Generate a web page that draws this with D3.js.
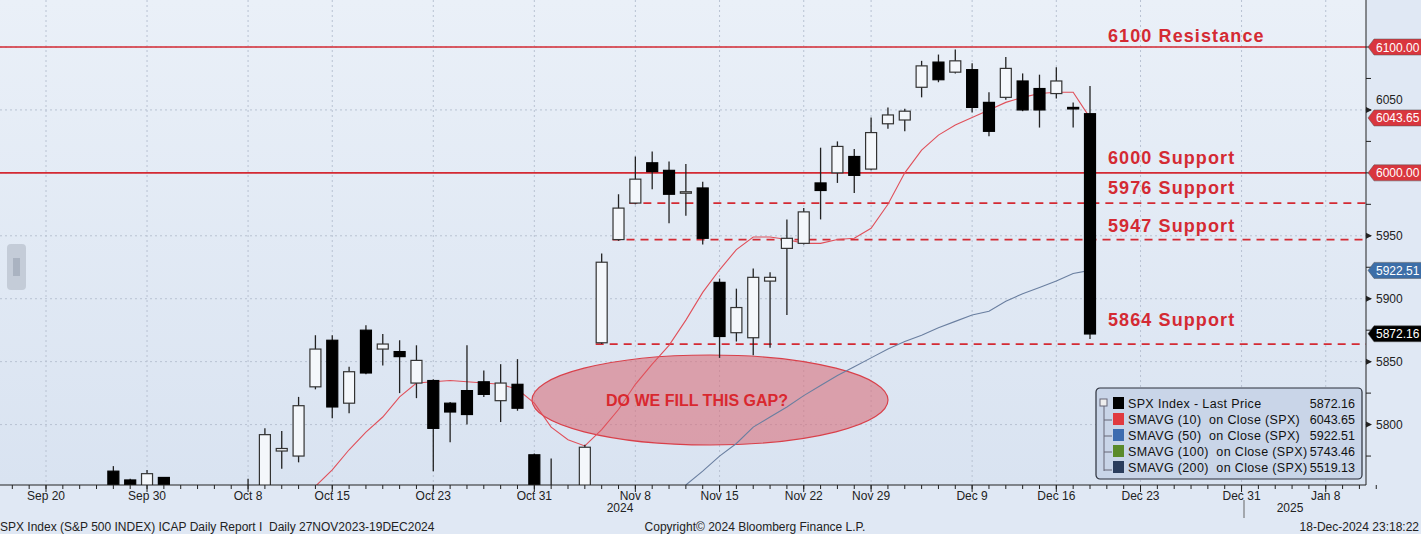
<!DOCTYPE html>
<html><head><meta charset="utf-8">
<script src="https://cdn.jsdelivr.net/npm/d3@7"></script>
<style>
body{margin:0;background:#e3eaf5;overflow:hidden}
text{font-family:"Liberation Sans",Arial,sans-serif;white-space:pre}
</style></head>
<body><svg id="chart" width="1421" height="534"></svg>
<script>
// trading days, index 0 = Sep 20 2024
var days = ["Sep 20","Sep 23","Sep 24","Sep 25","Sep 26","Sep 27","Sep 30","Oct 1","Oct 2","Oct 3","Oct 4","Oct 7","Oct 8","Oct 9","Oct 10","Oct 11","Oct 14","Oct 15","Oct 16","Oct 17","Oct 18","Oct 21","Oct 22","Oct 23","Oct 24","Oct 25","Oct 28","Oct 29","Oct 30","Oct 31","Nov 1","Nov 4","Nov 5","Nov 6","Nov 7","Nov 8","Nov 11","Nov 12","Nov 13","Nov 14","Nov 15","Nov 18","Nov 19","Nov 20","Nov 21","Nov 22","Nov 25","Nov 26","Nov 27","Nov 29","Dec 2","Dec 3","Dec 4","Dec 5","Dec 6","Dec 9","Dec 10","Dec 11","Dec 12","Dec 13","Dec 16","Dec 17","Dec 18"];
// [index, open, high, low, close] (below-range bodies are cut by the frame)
var ohlc = [
 [4,5763,5767,5740,5745],[5,5756,5757,5740,5745],[6,5745,5764,5740,5761],[7,5758,5758,5735,5740],
 [12,5745,5757,5740,5750],[13,5748,5797,5740,5792],[14,5779,5795,5765,5781],[15,5775,5822,5770,5815],
 [16,5830,5871,5828,5860],[17,5867,5871,5805,5814],[18,5817,5846,5809,5842],[19,5875,5879,5840,5841],
 [20,5860,5872,5847,5864],[21,5858,5867,5825,5854],[22,5833,5863,5821,5851],[23,5835,5836,5763,5797],
 [24,5817,5818,5786,5810],[25,5827,5863,5800,5808],[26,5834,5843,5822,5824],[27,5819,5848,5802,5833],
 [28,5832,5852,5811,5813],[29,5776,5777,5700,5705],[30,5740,5773,5720,5730],[32,5740,5784,5735,5782],
 [33,5865,5936,5864,5929],[34,5947,5983,5946,5972],[35,5976,6013,5975,5995],[36,6008,6017,5987,6001],
 [37,6002,6009,5960,5983],[38,5985,6007,5966,5985],[39,5988,5993,5943,5948],[40,5913,5916,5853,5870],
 [41,5873,5908,5866,5893],[42,5869,5924,5855,5917],[43,5914,5921,5861,5917],[44,5940,5963,5887,5948],
 [45,5944,5972,5943,5969],[46,5992,6020,5963,5986],[47,6000,6025,5992,6021],[48,6013,6019,5984,5998],
 [49,6003,6044,6002,6032],[50,6039,6052,6035,6046],[51,6042,6051,6033,6049],[52,6068,6089,6060,6085],
 [53,6088,6094,6072,6074],[54,6080,6098,6079,6089],[55,6082,6087,6048,6052],[56,6056,6064,6029,6033],
 [57,6060,6092,6058,6083],[58,6073,6079,6049,6050],[59,6067,6078,6036,6050],[60,6063,6084,6059,6073],
 [61,6052,6056,6036,6051],[62,6047,6069,5868,5872]
];
var sma10Start = 16;
var sma10 = [5751,5764,5780,5794,5806,5822,5833,5834,5835,5834,5833,5832,5828,5817,5798,5788,5783,5796,5812,5832,5848,5863,5883,5905,5923,5939,5949,5949,5947,5944,5944,5947,5948,5956,5975,6000,6018,6030,6038,6044,6050,6056,6060,6063,6064,6064,6043.65];
var sma50Start = 38;
var sma50 = [5752,5763,5775,5785,5798,5806,5814,5823,5831,5839,5846,5853,5860,5866,5871,5877,5882,5887,5890,5898,5904,5909,5914,5920,5922.51];
var xTicks = [[0,"Sep 20"],[6,"Sep 30"],[12,"Oct 8"],[17,"Oct 15"],[23,"Oct 23"],[29,"Oct 31"],[35,"Nov 8"],[40,"Nov 15"],[45,"Nov 22"],[49,"Nov 29"],[55,"Dec 9"],[60,"Dec 16"],[65,"Dec 23"],[71,"Dec 31"],[76,"Jan 8"]];
var yTicks = [5800,5850,5900,5950,6050];
var levels = [{v:6100,solid:true,from:0,label:"6100 Resistance",ly:36},{v:6000,solid:true,from:0,label:"6000 Support",ly:158},
  {v:5976,solid:false,from:35,label:"5976 Support",ly:188},{v:5947,solid:false,from:34,label:"5947 Support",ly:226},
  {v:5864,solid:false,from:33,label:"5864 Support",ly:320}];
var tags = [[6100,"6100.00","#d9363e"],[6043.65,"6043.65","#d9363e"],[6000,"6000.00","#d9363e"],[5922.51,"5922.51","#3c6ea8"],[5872.16,"5872.16","#000"]];
var legendRows = [["SPX Index - Last Price","5872.16","#000"],["SMAVG (10)  on Close (SPX)","6043.65","#e0393f"],
  ["SMAVG (50)  on Close (SPX)","5922.51","#3d6cb0"],["SMAVG (100)  on Close (SPX)","5743.46","#5a8a2a"],["SMAVG (200)  on Close (SPX)","5519.13","#2b3d5c"]];

var svg = d3.select("#chart");
var W = 1366, H = 485;
var x = d3.scaleLinear().domain([0,62]).range([46,1090]);
var y = d3.scaleLinear().domain([5752,6100]).range([H,47]);

var grad = svg.append("defs").append("linearGradient").attr("id","bg").attr("x1",0).attr("x2",0).attr("y1",0).attr("y2",1);
grad.append("stop").attr("offset",0).attr("stop-color","#eaf0f8");
grad.append("stop").attr("offset",1).attr("stop-color","#d9e3f1");
svg.select("defs").append("clipPath").attr("id","clip").append("rect").attr("width",W).attr("height",H);
svg.append("rect").attr("width",1421).attr("height",534).attr("fill","#e0e8f4");
svg.append("rect").attr("width",W).attr("height",H).attr("fill","url(#bg)");

var plot = svg.append("g").attr("clip-path","url(#clip)");
// grid
plot.selectAll(".vg").data(xTicks).enter().append("line")
  .attr("x1",d=>x(d[0])).attr("x2",d=>x(d[0])).attr("y1",0).attr("y2",H)
  .attr("stroke","#b8c2d2").attr("stroke-dasharray","2,3");
plot.selectAll(".hg").data(yTicks.concat([6000,6100])).enter().append("line")
  .attr("x1",0).attr("x2",W).attr("y1",d=>y(d)).attr("y2",d=>y(d))
  .attr("stroke","#b8c2d2").attr("stroke-dasharray","2,3");

// gap ellipse
plot.append("ellipse").attr("cx",710).attr("cy",400).attr("rx",178).attr("ry",45)
  .attr("fill","#d9707c").attr("fill-opacity",0.6).attr("stroke","#d9404a").attr("stroke-width",1.2);

// level lines
plot.selectAll(".lvl").data(levels).enter().append("line")
  .attr("x1",d=>d.from ? x(d.from)-6 : 0).attr("x2",W).attr("y1",d=>y(d.v)).attr("y2",d=>y(d.v))
  .attr("stroke","#d42a33").attr("stroke-width",d=>d.solid?1.6:1.8)
  .attr("stroke-dasharray",d=>d.solid?null:"8,6");

// moving averages
var line = d3.line().x(d=>x(d[0])).y(d=>y(d[1]));
plot.append("path").datum(sma50.map((v,i)=>[sma50Start+i,v])).attr("d",line)
  .attr("fill","none").attr("stroke","#6a7fa0").attr("stroke-width",1.1);
plot.append("path").datum(sma10.map((v,i)=>[sma10Start+i,v])).attr("d",line)
  .attr("fill","none").attr("stroke","#e0505a").attr("stroke-width",1.1);

// candles
var c = plot.selectAll(".candle").data(ohlc).enter().append("g");
c.append("line").attr("x1",d=>x(d[0])).attr("x2",d=>x(d[0])).attr("y1",d=>y(d[2])).attr("y2",d=>y(d[3]))
  .attr("stroke","#222").attr("stroke-width",1.3);
c.append("rect").attr("x",d=>x(d[0])-5.5).attr("width",11)
  .attr("y",d=>y(Math.max(d[1],d[4]))).attr("height",d=>Math.max(1.5,Math.abs(y(d[1])-y(d[4]))))
  .attr("fill",d=>d[4]<d[1]?"#000":"#f4f7fb").attr("stroke",d=>d[4]<d[1]?"#000":"#333").attr("stroke-width",1.2);

plot.append("text").attr("x",697).attr("y",406).attr("text-anchor","middle").attr("fill","#d9282f")
  .attr("font-weight","bold").attr("font-size",16).text("DO WE FILL THIS GAP?");
plot.selectAll(".ll").data(levels).enter().append("text").attr("x",1108).attr("y",d=>d.ly+6)
  .attr("fill","#d42a33").attr("font-weight","bold").attr("font-size",18).attr("letter-spacing",1.1).text(d=>d.label);

// frame
svg.append("line").attr("x1",W).attr("x2",W).attr("y1",0).attr("y2",H).attr("stroke","#222");
svg.append("line").attr("x1",0).attr("x2",W).attr("y1",H).attr("y2",H).attr("stroke","#222");

// right axis
var ry = svg.append("g");
ry.selectAll(".mt").data(d3.range(5775,6101,25)).enter().append("line")
  .attr("x1",W).attr("x2",W+5).attr("y1",d=>y(d)).attr("y2",d=>y(d)).attr("stroke","#222");
ry.selectAll(".yl").data(yTicks).enter().append("text").attr("x",W+10).attr("y",d=>y(d)+(d==6050?-6:4))
  .attr("font-size",12).attr("fill","#222").text(d=>d);
ry.selectAll(".yt").data(yTicks).enter().append("path")
  .attr("d",d=>"M"+W+","+(y(d)-3)+"l6,3l-6,3z").attr("fill","#222");
var tg = ry.selectAll(".tag").data(tags).enter().append("g").attr("transform",d=>"translate("+W+","+y(d[0])+")");
tg.append("path").attr("d","M2,0L8,-8L56,-8L56,8L8,8Z").attr("fill",d=>d[2]).attr("stroke","#555").attr("stroke-width",0.5);
tg.append("text").attr("x",10).attr("y",4.5).attr("font-size",12).attr("fill","#fff").text(d=>d[1]);

// x axis
var xa = svg.append("g");
xa.selectAll(".dt").data(d3.range(-2,80)).enter().append("line")
  .attr("x1",d=>x(d)).attr("x2",d=>x(d)).attr("y1",H).attr("y2",H+4).attr("stroke","#222");
xa.selectAll(".xt").data(xTicks).enter().append("line")
  .attr("x1",d=>x(d[0])).attr("x2",d=>x(d[0])).attr("y1",H).attr("y2",H+7).attr("stroke","#222");
xa.selectAll(".xl").data(xTicks).enter().append("text").attr("x",d=>x(d[0])).attr("y",H+15)
  .attr("text-anchor","middle").attr("font-size",12).attr("fill","#222").text(d=>d[1]);
xa.append("text").attr("x",620).attr("y",512).attr("text-anchor","middle").attr("font-size",12).attr("fill","#222").text("2024");
xa.append("text").attr("x",1290).attr("y",512).attr("text-anchor","middle").attr("font-size",12).attr("fill","#222").text("2025");
xa.append("line").attr("x1",1244).attr("x2",1244).attr("y1",500).attr("y2",518).attr("stroke","#666");

svg.append("text").attr("x",0).attr("y",531).attr("font-size",12).attr("fill","#222")
  .text("SPX Index (S&P 500 INDEX) ICAP Daily Report I  Daily 27NOV2023-19DEC2024");
svg.append("text").attr("x",755).attr("y",531).attr("text-anchor","middle").attr("font-size",12).attr("fill","#222")
  .text("Copyright\u00a9 2024 Bloomberg Finance L.P.");
svg.append("text").attr("x",1419).attr("y",531).attr("text-anchor","end").attr("font-size",12).attr("fill","#222")
  .text("18-Dec-2024 23:18:22");

// side handle
svg.append("rect").attr("x",7).attr("y",244).attr("width",19).attr("height",46).attr("rx",4).attr("fill","#c4ccd8");
svg.append("rect").attr("x",13).attr("y",258).attr("width",7).attr("height",18).attr("fill","#aab3c1");

// legend
var lg = svg.append("g").attr("transform","translate(1096,388)");
lg.append("rect").attr("width",266).attr("height",91).attr("rx",4).attr("fill","#c9d5e8").attr("stroke","#2a2f3a").attr("stroke-width",1.2);
lg.append("path").attr("d","M8,18V83M8,32H16M8,48H16M8,64H16M8,82H16").attr("stroke","#667").attr("fill","none");
lg.append("rect").attr("x",4).attr("y",11).attr("width",7).attr("height",7).attr("fill","#eee").attr("stroke","#667");
var rows = lg.selectAll(".row").data(legendRows).enter().append("g").attr("transform",(d,i)=>"translate(0,"+(16+i*16)+")");
rows.append("rect").attr("x",17).attr("y",-7).attr("width",11).attr("height",12).attr("fill",d=>d[2]);
rows.append("text").attr("x",32).attr("y",4).attr("font-size",12.5).attr("letter-spacing",0.35).attr("fill","#111").text(d=>d[0]);
rows.append("text").attr("x",259).attr("y",4).attr("text-anchor","end").attr("font-size",12.5).attr("fill","#111").text(d=>d[1]);
</script></body></html>
